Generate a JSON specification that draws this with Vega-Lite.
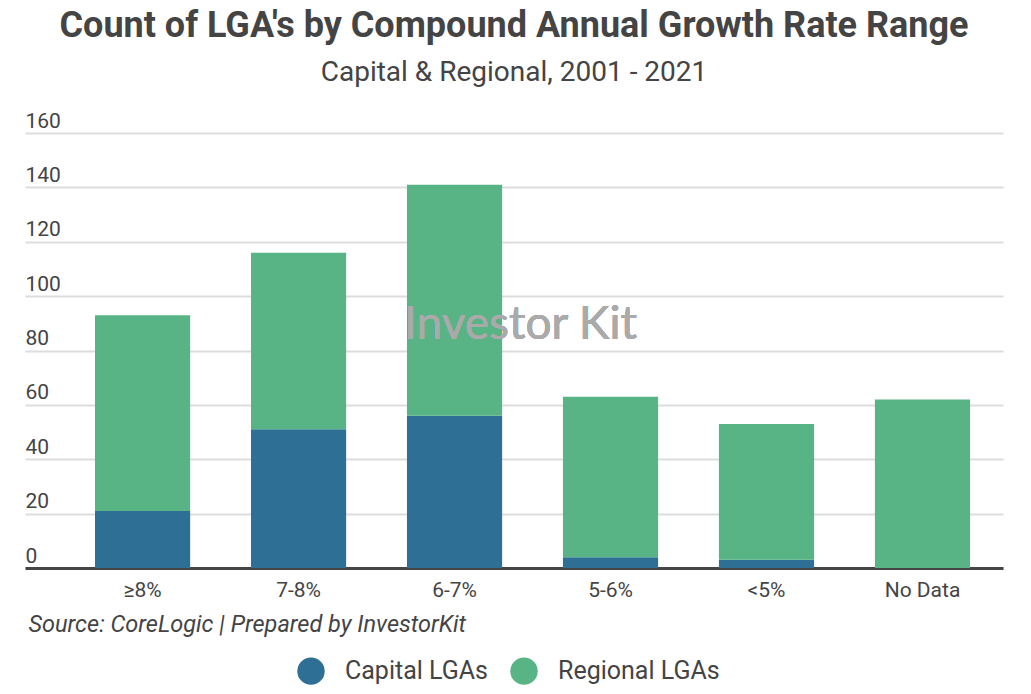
{
  "$schema": "https://vega.github.io/schema/vega-lite/v6.json",
  "width": 978,
  "height": 435,
  "autosize": {"type": "none"},
  "padding": {"left": 25, "top": 133, "right": 28, "bottom": 126},
  "background": "#ffffff",
  "config": {"view": {"stroke": null}},
  "title": {
    "text": "Count of LGA's by Compound Annual Growth Rate Range",
    "subtitle": "Capital & Regional, 2001 - 2021",
    "anchor": "middle",
    "font": "Roboto",
    "fontSize": 36,
    "fontWeight": "bold",
    "color": "#444444",
    "subtitleFont": "Roboto",
    "subtitleFontSize": 28,
    "subtitleColor": "#444444",
    "subtitlePadding": 14,
    "offset": 22
  },
  "data": {
    "values": [
      {"range": "≥8%", "type": "Capital LGAs", "count": 21},
      {"range": "≥8%", "type": "Regional LGAs", "count": 72},
      {"range": "7-8%", "type": "Capital LGAs", "count": 51},
      {"range": "7-8%", "type": "Regional LGAs", "count": 65},
      {"range": "6-7%", "type": "Capital LGAs", "count": 56},
      {"range": "6-7%", "type": "Regional LGAs", "count": 85},
      {"range": "5-6%", "type": "Capital LGAs", "count": 4},
      {"range": "5-6%", "type": "Regional LGAs", "count": 59},
      {"range": "<5%", "type": "Capital LGAs", "count": 3},
      {"range": "<5%", "type": "Regional LGAs", "count": 50},
      {"range": "No Data", "type": "Capital LGAs", "count": 0},
      {"range": "No Data", "type": "Regional LGAs", "count": 62}
    ]
  },
  "encoding": {
    "x": {
      "field": "range",
      "type": "nominal",
      "sort": ["≥8%", "7-8%", "6-7%", "5-6%", "<5%", "No Data"],
      "scale": {"paddingInner": 0.39, "paddingOuter": 0.33, "align": 0.68},
      "axis": {
        "labelAngle": 0,
        "domain": true,
        "domainColor": "#444444",
        "domainWidth": 3,
        "ticks": false,
        "tickSize": 0,
        "labelPadding": 11,
        "labelFont": "Roboto",
        "labelFontSize": 21,
        "labelColor": "#444444",
        "title": "Source: CoreLogic | Prepared by InvestorKit",
        "titleFont": "Roboto",
        "titleFontSize": 23.5,
        "titleFontStyle": "italic",
        "titleFontWeight": "normal",
        "titleColor": "#444444",
        "titleAnchor": "start",
        "titleAlign": "left",
        "titleX": 3,
        "titlePadding": 12
      }
    }
  },
  "layer": [
    {
      "mark": {"type": "bar"},
      "encoding": {
        "y": {
          "field": "count",
          "type": "quantitative",
          "stack": "zero",
          "scale": {"domain": [0, 160]},
          "axis": {
            "values": [0, 20, 40, 60, 80, 100, 120, 140, 160],
            "grid": true,
            "gridColor": "#dddddd",
            "gridWidth": 2,
            "domain": false,
            "ticks": false,
            "tickSize": 0,
            "labelAlign": "left",
            "labelBaseline": "alphabetic",
            "labelPadding": 0,
            "labelOffset": -6,
            "labelFont": "Roboto",
            "labelFontSize": 21,
            "labelColor": "#444444",
            "title": null
          }
        },
        "order": {"field": "type", "type": "ordinal", "sort": "ascending"},
        "color": {
          "field": "type",
          "type": "nominal",
          "scale": {"domain": ["Capital LGAs", "Regional LGAs"], "range": ["#2e7095", "#58b485"]},
          "legend": {
            "title": null,
            "orient": "none",
            "direction": "horizontal",
            "legendX": 272,
            "legendY": 524,
            "symbolType": "circle",
            "symbolSize": 750,
            "symbolStrokeWidth": 0,
            "symbolOpacity": 1,
            "labelFont": "Roboto",
            "labelFontSize": 25,
            "labelColor": "#444444",
            "labelLimit": 400,
            "labelOffset": 20,
            "columnPadding": 22
          }
        }
      }
    },
    {
      "mark": {
        "type": "text",
        "text": "Investor Kit",
        "font": "Lato",
        "fontSize": 46,
        "color": "#aaaaaa",
        "opacity": 0.5,
        "align": "center",
        "baseline": "middle",
        "dx": 66
      },
      "encoding": {
        "x": {"datum": "6-7%", "type": "nominal"},
        "y": {"datum": 89.5, "type": "quantitative"}
      }
    }
  ]
}
